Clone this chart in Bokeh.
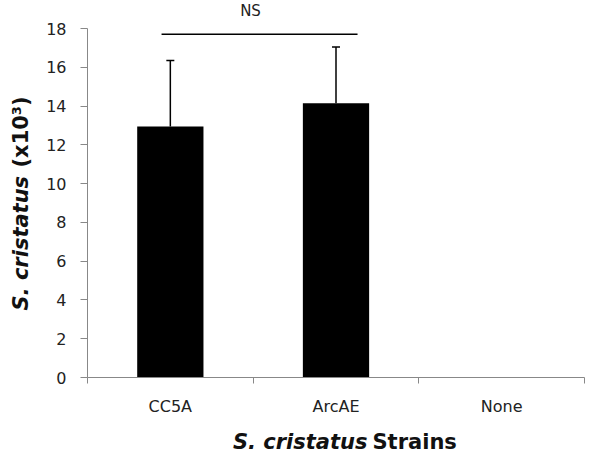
from bokeh.plotting import figure
from bokeh.models import (ColumnDataSource, FixedTicker, Whisker, TeeHead, Label, Range1d, LinearAxis)
from bokeh.embed import file_html
from bokeh.resources import INLINE
import math

categories = ["CC5A", "ArcAE", "None"]
means = [12.95, 14.15, 0.0]
errors = [3.4, 2.9, 0.0]
y_ticks = [0, 2, 4, 6, 8, 10, 12, 14, 16, 18]
ns_text = "NS"
ns_y = 17.7

xs = [i + 0.5 for i in range(len(categories))]
n = len(categories)
FONT = "DejaVu Sans"

W, H = 601, 453
left, right, top, bottom = 87, 584, 28, 377
xpx = (right - left) / n
ypx = (bottom - top) / 18.0

p = figure(width=W, height=H, output_backend="svg", toolbar_location=None,
           x_axis_location=None, y_axis_location=None,
           x_range=Range1d(-left / xpx, n + (W - right) / xpx),
           y_range=Range1d(-(H - bottom) / ypx, 18 + top / ypx),
           min_border=0)
p.outline_line_color = None
p.xgrid.visible = False
p.ygrid.visible = False
p.background_fill_color = "white"
p.border_fill_color = "white"

src = ColumnDataSource(dict(x=xs, top=means))
p.vbar(x="x", top="top", width=0.4, source=src, fill_color="black", line_color=None)

wx = [x for x, e in zip(xs, errors) if e > 0]
wb = [m for m, e in zip(means, errors) if e > 0]
wu = [m + e for m, e in zip(means, errors) if e > 0]
wsrc = ColumnDataSource(dict(x=wx, lower=wb, upper=wu))
p.add_layout(Whisker(base="x", lower="lower", upper="upper", source=wsrc,
                     line_color="black", line_width=1.5,
                     upper_head=TeeHead(size=8, line_color="black", line_width=1.5),
                     lower_head=None))

# significance bracket
p.line(x=[0.447, 1.63], y=[ns_y, ns_y], line_color="black", line_width=1.5)
p.add_layout(Label(x=(250 - left) / xpx, y=18 + (top - 1) / ypx, text=ns_text,
                   text_align="center", text_baseline="top",
                   text_font=FONT, text_font_size="15px", text_color="#222222"))

# axes drawn at data locations
xa = LinearAxis(fixed_location=0, bounds=(0, n))
xa.ticker = FixedTicker(ticks=xs, minor_ticks=list(range(n + 1)))
xa.major_label_overrides = {x: c for x, c in zip(xs, categories)}
xa.major_tick_out = 0
xa.major_tick_in = 0
xa.minor_tick_out = 6
xa.minor_tick_in = 0
xa.axis_line_color = "#888888"
xa.minor_tick_line_color = "#888888"
xa.major_label_text_font = FONT
xa.major_label_text_font_size = "16px"
xa.major_label_text_color = "#222222"
xa.major_label_standoff = 13
p.add_layout(xa, "below")

ya = LinearAxis(fixed_location=0, bounds=(0, 18))
ya.ticker = FixedTicker(ticks=y_ticks, minor_ticks=[])
ya.major_tick_out = 7
ya.major_tick_in = 0
ya.axis_line_color = "#888888"
ya.major_tick_line_color = "#888888"
ya.major_label_text_font = FONT
ya.major_label_text_font_size = "16px"
ya.major_label_text_color = "#222222"
ya.major_label_standoff = 14
p.add_layout(ya, "left")

# y axis title (mixed italic)
ytx = (20 - left) / xpx
p.add_layout(Label(x=ytx, y=(bottom - 310) / ypx, text="S. cristatus", angle=math.pi / 2,
                   text_align="left", text_baseline="middle", text_font=FONT,
                   text_font_style="bold italic", text_font_size="21px", text_color="#111111"))
p.add_layout(Label(x=ytx, y=(bottom - 167) / ypx, text="(x10\u00b3)", angle=math.pi / 2,
                   text_align="left", text_baseline="middle", text_font=FONT,
                   text_font_style="bold", text_font_size="21px", text_color="#111111"))

# x axis title (mixed italic)
xty = -(441 - bottom) / ypx
p.add_layout(Label(x=(367 - left) / xpx, y=xty, text="S. cristatus", text_align="right",
                   text_baseline="middle", text_font=FONT, text_font_style="bold italic",
                   text_font_size="21px", text_color="#111111"))
p.add_layout(Label(x=(372 - left) / xpx, y=xty, text="Strains", text_align="left",
                   text_baseline="middle", text_font=FONT, text_font_style="bold",
                   text_font_size="21px", text_color="#111111"))

open("out.html", "w").write(file_html(p, INLINE))
